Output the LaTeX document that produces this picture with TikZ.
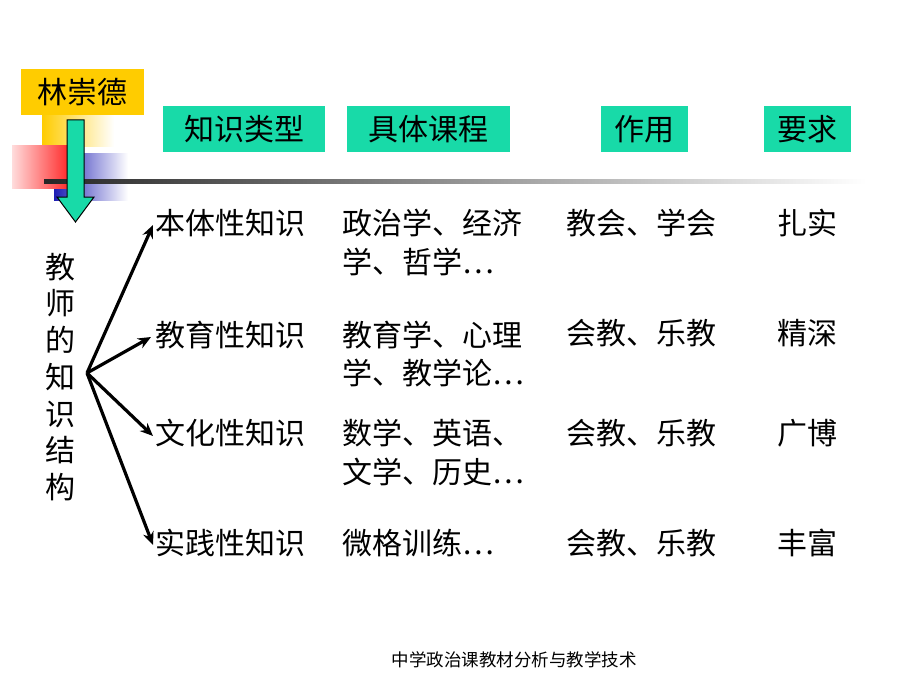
\documentclass[tikz,border=0pt]{standalone}
\usepackage{fontspec}
\newfontfamily\cjk{Noto Sans CJK SC}
\usetikzlibrary{arrows.meta}
\definecolor{teal1}{RGB}{24,218,168}
\definecolor{gold1}{RGB}{255,204,0}
\definecolor{blue1}{RGB}{30,30,180}
\definecolor{red1}{RGB}{255,20,20}
\begin{document}
\begin{tikzpicture}[x=1pt,y=-1pt,
  txt/.style={font=\cjk\fontsize{30}{36}\selectfont, inner sep=0pt, text height=26.4pt, text depth=3.6pt, anchor=west},
  hdr/.style={fill=teal1, minimum height=46pt, inner sep=0pt, text height=26.4pt, text depth=3.6pt, font=\cjk\fontsize{30}{36}\selectfont},
  arr/.style={line width=3.2pt, -{Stealth[length=13pt,width=11pt]}}]
\fill[white] (0,0) rectangle (920,690);
\useasboundingbox (0,0) rectangle (920,690);
% decoration
\shade[left color=gold1, right color=white] (42,100) rectangle (114,146);
\shade[left color=blue1, right color=white] (54,153) rectangle (128,200);
\shade[left color=red1!15, right color=red1] (12,145) rectangle (76,188);
\shade[left color=black!85, right color=white] (44,179) rectangle (866,183);
\node[fill=gold1, minimum width=123pt, minimum height=46pt, inner sep=0pt, text height=26.4pt, text depth=3.6pt, font=\cjk\fontsize{30}{36}\selectfont] (lcd) at (82.5,92) {林崇德};
\draw[fill=teal1, line width=1pt] (67,120) -- (84,120) -- (84,197) -- (94,197) -- (75.5,222) -- (57,197) -- (67,197) -- cycle;
% headers
\node[hdr, minimum width=162pt] (h1) at (244,129) {知识类型};
\node[hdr, minimum width=163pt] (h2) at (428.5,129) {具体课程};
\node[hdr, minimum width=87pt] (h3) at (644.5,129) {作用};
\node[hdr, minimum width=87pt] (h4) at (807.5,129) {要求};
% left vertical label
\node[font=\cjk\fontsize{30}{36.7}\selectfont, align=center, inner sep=0pt] (jg) at (60,377) {教\\师\\的\\知\\识\\结\\构};
\coordinate (o) at (87,373);
% rows
\node[txt] (k1) at (155,223) {本体性知识};
\node[txt] (k2) at (155,335) {教育性知识};
\node[txt] (k3) at (155,433) {文化性知识};
\node[txt] (k4) at (155,543) {实践性知识};
\node[txt] (c1a) at (342,223) {政治学、经济};
\node[txt] (c1b) at (342,262) {学、哲学…};
\node[txt] (c2a) at (342,335) {教育学、心理};
\node[txt] (c2b) at (342,373) {学、教学论…};
\node[txt] (c3a) at (342,433) {数学、英语、};
\node[txt] (c3b) at (342,472) {文学、历史…};
\node[txt] (c4a) at (342,543) {微格训练…};
\node[txt] (u1) at (566,223) {教会、学会};
\node[txt] (u2) at (566,333) {会教、乐教};
\node[txt] (u3) at (566,433) {会教、乐教};
\node[txt] (u4) at (566,543) {会教、乐教};
\node[txt] (r1) at (777,223) {扎实};
\node[txt] (r2) at (777,333) {精深};
\node[txt] (r3) at (777,433) {广博};
\node[txt] (r4) at (777,543) {丰富};
% arrows
\draw[arr] (o) -- ([xshift=-2pt,yshift=-2pt]k1.west);
\draw[arr] (o) -- ([xshift=-4pt,yshift=-2pt]k2.west);
\draw[arr] (o) -- ([xshift=-2pt,yshift=-3pt]k3.west);
\draw[arr] (o) -- ([xshift=-2pt,yshift=-2pt]k4.west);
% footer
\node[font=\cjk\fontsize{17.5}{20}\selectfont, inner sep=0pt] (ft) at (514,660) {中学政治课教材分析与教学技术};
\end{tikzpicture}
\end{document}
